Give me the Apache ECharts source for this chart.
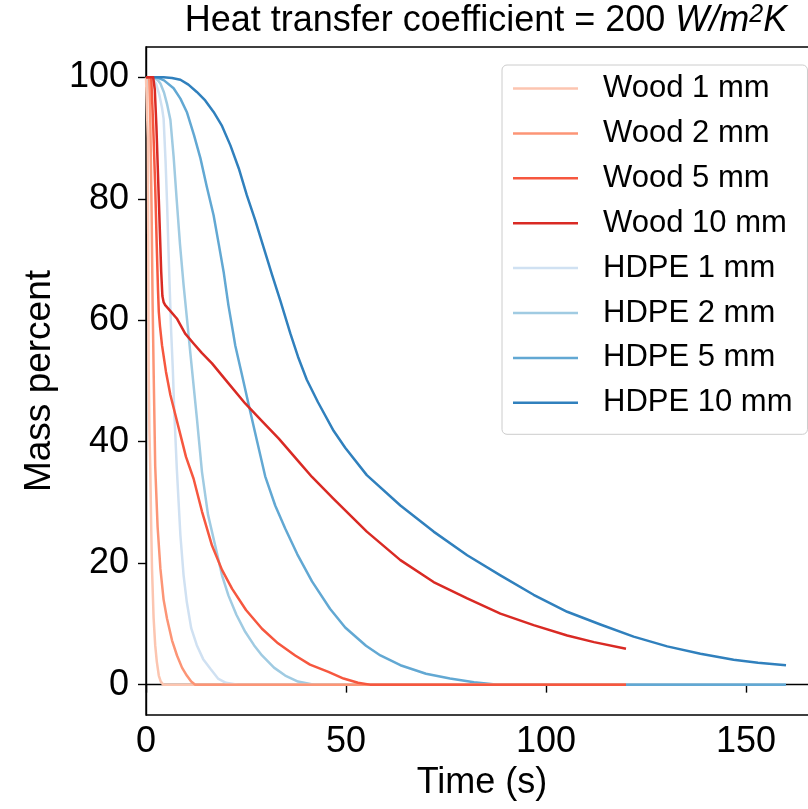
<!DOCTYPE html>
<html>
<head>
<meta charset="utf-8">
<script src="https://cdn.jsdelivr.net/npm/echarts@6/dist/echarts.min.js"></script>
<style>
html,body{margin:0;padding:0;background:#fff;}
#c{width:808px;height:809px;}
</style>
</head>
<body>
<div id="c"></div>
<script>
// ---- data (time s, mass percent) ----
const seriesNames = ['Wood 1 mm','Wood 2 mm','Wood 5 mm','Wood 10 mm','HDPE 1 mm','HDPE 2 mm','HDPE 5 mm','HDPE 10 mm'];
const xTicks = [0, 50, 100, 150];
const yTicks = [0, 20, 40, 60, 80, 100];

const wood1 = [[0,100],[0.3,100],[0.45,90],[0.55,75],[0.67,52],[0.85,42],[1.07,35.6],[1.3,26],[1.5,19.1],[1.9,11],[2.3,6.5],[2.7,3.8],[3.2,1.5],[3.7,0.5],[4.3,0],[120,0]];
const wood2 = [[0,100],[0.8,100],[1.1,92],[1.4,78],[1.65,63],[1.9,52],[2.3,36],[2.9,26],[3.6,19.1],[4.4,14],[5.25,10.9],[6.5,7.3],[7.75,4.8],[9,2.8],[10.2,1.5],[11.3,0.5],[12.3,0],[120,0]];
const wood5 = [[0,100],[1.3,100],[1.8,92],[2.3,82],[2.7,72],[3.0,65],[3.2,61.4],[3.5,59],[4,55.9],[5,51.5],[6.1,47.7],[8.2,42.2],[10,37.5],[11.9,33.9],[14,28.5],[16.5,22.9],[19,18.9],[21.5,15.8],[25,12.3],[29,9.2],[33,6.8],[37.3,4.8],[41,3.3],[45.6,2.1],[49.4,1],[53,0.3],[56,0],[120,0]];
const wood10 = [[0,100],[1.8,100],[2.2,98],[2.6,92],[3.0,84],[3.4,76],[3.8,68],[4.1,64],[4.4,63],[4.8,62.5],[6,61.6],[7.7,60.3],[8.8,59],[9.8,57.8],[12,56.1],[14,54.6],[16.5,52.9],[20,50.1],[24.8,46.3],[29,43.4],[33.2,40.5],[38.6,36.4],[41.5,34.2],[46.9,30.6],[55.2,25.2],[63.6,20.5],[71.9,16.9],[80.3,14.2],[88.6,11.7],[96.9,9.8],[105.3,8.1],[112,7],[120,5.9]];
const hdpe1 = [[0,100],[1.5,100],[2.5,99],[3.3,97.2],[4,95],[4.4,93.2],[4.9,86],[5.25,79.6],[5.6,72],[5.9,65.8],[6.3,58],[6.7,52],[7.1,44.5],[7.7,35.6],[8.6,24.6],[9.4,18],[10.2,13.6],[11.3,9.3],[12.7,6.5],[14.3,4.2],[16.1,2.6],[18,1],[20,0.3],[23,0],[160,0]];
const hdpe2 = [[0,100],[2,100],[3,99.5],[3.6,99],[4.5,97.5],[5.3,95.5],[6.1,93],[6.9,87],[7.7,79.6],[8.5,72.5],[9.4,65.8],[10.2,60.5],[11.1,54.5],[12.7,44],[14,35],[15.5,28],[17.3,22.9],[19,18],[20.6,14.7],[22.6,11.5],[24.8,8.7],[27,6.5],[29,4.8],[32,2.8],[34.8,1.5],[38,0.5],[42,0],[160,0]];
const hdpe5 = [[0,100],[2.75,100],[4.5,99.5],[6.9,98.2],[8.6,96.5],[10.2,94.3],[12,90.5],[13.6,86.7],[15.2,82],[16.9,77.3],[18.2,72.5],[19.4,68],[20.6,62.5],[21.9,57.5],[22.3,55.9],[24,51],[25.7,46],[27.8,40],[29.8,34.3],[32.3,29.5],[34.8,25.7],[37.8,21.5],[41.5,17],[46,12.5],[49.8,9.4],[55,6.4],[58.6,4.8],[63.6,3.2],[70,1.8],[76,1],[82,0.4],[88,0],[160,0]];
const hdpe10 = [[0,100],[4.4,100],[6.5,99.9],[8.6,99.6],[10.6,98.8],[12.7,97.6],[14.8,96.2],[16.9,94.3],[19,92],[21.1,88.8],[23.2,85],[25.2,80.6],[27.3,76.5],[29.4,72],[31.5,67.5],[33.6,63.2],[36.1,57.8],[38,54],[40.2,50.2],[43,46.5],[46.9,41.8],[49.8,39],[55.2,34.5],[63.6,29.5],[71.9,25.2],[80.3,21.3],[88.6,18],[96.9,14.8],[105.3,12],[113.6,9.9],[121.9,7.9],[130.3,6.3],[138.6,5.1],[146.9,4.1],[153,3.6],[160,3.2]];

const woodColors = ['#fcc5b0','#fc9576','#f6573f','#d92a24'];
const hdpeColors = ['#d0e1f2','#a0cbe2','#62a8d3','#3080bd'];

const FONT = 'Liberation Sans, Arial, sans-serif';
const woodData = [wood1, wood2, wood5, wood10];
const hdpeData = [hdpe1, hdpe2, hdpe5, hdpe10];

function mk(name, data, color) {
  return {
    name: name, type: 'line', data: data, showSymbol: false, symbol: 'none',
    smooth: false,
    lineStyle: { color: color, width: 2.5, join: 'round' }, itemStyle: { color: color },
    clip: true
  };
}
const series = [];
hdpeData.forEach((d, i) => series.push(mk(seriesNames[4 + i], d, hdpeColors[i])));
woodData.forEach((d, i) => series.push(mk(seriesNames[i], d, woodColors[i])));

const chart = echarts.init(document.getElementById('c'), null, { renderer: 'canvas' });
chart.setOption({
  animation: false,
  backgroundColor: '#ffffff',
  textStyle: { fontFamily: FONT },
  title: {
    text: '{n|Heat transfer coefficient = 200 }{i|W/m}{s|2}{i|K}',
    left: 481, top: -2, textAlign: 'center',
    textStyle: {
      fontWeight: 'normal',
      rich: {
        n: { fontSize: 36, color: '#000', fontFamily: FONT, fontWeight: 'normal' },
        i: { fontSize: 36, color: '#000', fontFamily: FONT, fontStyle: 'italic', fontWeight: 'normal' },
        s: { fontSize: 25, color: '#000', fontFamily: FONT, fontStyle: 'italic', fontWeight: 'normal', verticalAlign: 'top' }
      }
    }
  },
  grid: { left: 146, top: 47, width: 672, height: 668, outerBoundsMode: 'none', containLabel: false, show: true, borderColor: '#000', borderWidth: 1.4, backgroundColor: 'transparent' },
  legend: {
    data: seriesNames,
    orient: 'vertical', left: 502, top: 65,
    icon: 'rect', itemWidth: 65, itemHeight: 2.5,
    itemGap: 13.9,
    padding: [8, 15, 16, 11],
    backgroundColor: 'rgba(255,255,255,0.85)', borderColor: '#cccccc', borderWidth: 1, borderRadius: 5,
    textStyle: { fontSize: 31, color: '#000', fontFamily: FONT, lineHeight: 30, padding: [0, 0, 0, 20] }
  },
  xAxis: {
    type: 'value', min: 0, max: 168, interval: 50,
    name: 'Time (s)', nameLocation: 'middle', nameGap: 31,
    nameTextStyle: { fontSize: 36, color: '#000', fontFamily: FONT, verticalAlign: 'top' },
    axisLine: { show: true, lineStyle: { color: '#000', width: 1.4 } },
    axisTick: { show: true, inside: false, length: 8, lineStyle: { color: '#000', width: 1.4 }, customValues: xTicks },
    axisLabel: { show: true, fontSize: 36, color: '#000', fontFamily: FONT, margin: 9, customValues: xTicks, formatter: v => String(v) },
    splitLine: { show: false }
  },
  yAxis: {
    type: 'value', min: -5, max: 105,
    name: 'Mass percent', nameLocation: 'middle', nameGap: 88, nameRotate: 90,
    nameTextStyle: { fontSize: 37, color: '#000', fontFamily: FONT },
    axisLine: { show: true, lineStyle: { color: '#000', width: 1.4 } },
    axisTick: { show: true, inside: false, length: 8, lineStyle: { color: '#000', width: 1.4 }, customValues: yTicks },
    axisLabel: { show: true, fontSize: 36, color: '#000', fontFamily: FONT, margin: 17, customValues: yTicks, formatter: v => String(v) },
    splitLine: { show: false }
  },
  series: series
});
</script>
</body>
</html>
